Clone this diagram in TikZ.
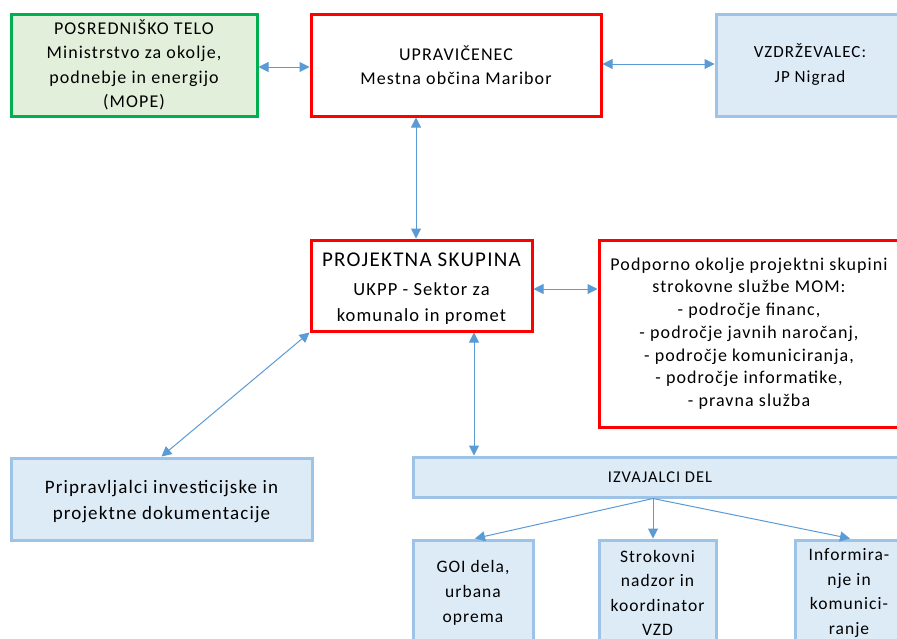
\documentclass[tikz,border=0pt]{standalone}
\usepackage{fontspec}
\setmainfont{Carlito}[LetterSpace=6]
\usetikzlibrary{arrows.meta}
\definecolor{myred}{HTML}{FF0000}
\definecolor{mygreen}{HTML}{00B050}
\definecolor{greenfill}{HTML}{E2EFDA}
\definecolor{blueline}{HTML}{9DC3E6}
\definecolor{bluefill}{HTML}{DDEBF7}
\definecolor{arrowblue}{HTML}{5B9BD5}
\begin{document}
\begin{tikzpicture}[x=1pt,y=-1pt,
  box/.style={line width=3pt, inner sep=0pt, align=center, anchor=center,
    font=\fontsize{18}{24.5}\selectfont},
  redbox/.style={box, draw=myred, fill=white},
  greenbox/.style={box, draw=mygreen, fill=greenfill},
  bluebox/.style={box, draw=blueline, fill=bluefill},
  conn/.style={draw=arrowblue, line width=1pt},
  biarr/.style={conn, {Triangle[length=10pt,width=10pt]}-{Triangle[length=10pt,width=10pt]}},
  onearr/.style={conn, -{Triangle[length=10pt,width=10pt]}}
]
\useasboundingbox (0,0) rectangle (897,638);
\clip (0,0) rectangle (897,638);
\fill[white] (0,0) rectangle (897,638);

\node[greenbox, minimum width=246pt, minimum height=102pt] (mope) at (134,65)
  {POSREDNIŠKO TELO\\Ministrstvo za okolje,\\podnebje in energijo\\(MOPE)};
\node[redbox, minimum width=290pt, minimum height=102pt] (upr) at (456,65)
  {UPRAVIČENEC\\Mestna občina Maribor};
\node[bluebox, minimum width=188pt, minimum height=102pt, font=\fontsize{17}{25}\selectfont] (vzd) at (810,65)
  {VZDRŽEVALEC:\\JP Nigrad};

\node[redbox, minimum width=221pt, minimum height=91pt] (proj) at (421.5,285.5) {};
\node[align=center, inner sep=0pt, font=\fontsize{18.5}{26}\selectfont] (projtext) at ([yshift=-3pt]proj.center)
  {{\fontsize{21}{28}\selectfont PROJEKTNA SKUPINA}\\[3pt]
   UKPP - Sektor za\\
   komunalo in promet};
\node[redbox, minimum width=300pt, minimum height=187pt, font=\fontsize{18}{22.7}\selectfont] (podp) at (749,333.5)
  {Podporno okolje projektni skupini\\strokovne službe MOM:\\- področje financ,\\- področje javnih naročanj,\\- področje komuniciranja,\\- področje informatike,\\- pravna služba};

\node[bluebox, minimum width=301pt, minimum height=82pt] (pripr) at (161.5,499) {};
\node[align=center, inner sep=0pt, font=\fontsize{19}{26}\selectfont] (priprtext) at ([yshift=-3pt]pripr.center)
  {Pripravljalci investicijske in\\projektne dokumentacije};
\node[bluebox, minimum width=494pt, minimum height=40pt, font=\fontsize{16.5}{24}\selectfont] (izv) at (660,477)
  {IZVAJALCI DEL};

\node[bluebox, minimum width=120pt, minimum height=106pt, font=\fontsize{17.5}{25}\selectfont] (goi) at (473,593)
  {GOI dela,\\urbana\\oprema};
\node[bluebox, minimum width=117pt, minimum height=106pt, font=\fontsize{17.5}{24.5}\selectfont] (strok) at (657.5,593)
  {Strokovni\\nadzor in\\koordinator\\VZD};
\node[bluebox, minimum width=108pt, minimum height=106pt, font=\fontsize{17.5}{24.5}\selectfont] (inf) at (849,593)
  {Informira-\\nje in\\komunici-\\ranje};

\draw[biarr] ([yshift=-2pt]mope.east) -- ([yshift=-2pt]upr.west);
\draw[biarr] ([yshift=1pt]upr.east) -- ([yshift=1pt]vzd.west);
\draw[biarr] ([xshift=-40pt]upr.south) -- ([xshift=-5.5pt]proj.north);
\coordinate (proje) at ([yshift=-3.5pt]proj.east);
\draw[biarr] (proje) -- (podp.west |- proje);
\draw[biarr] (proj.south west) -- (pripr.north);
\draw[biarr] ([xshift=52.5pt]proj.south) -- ([xshift=-186pt]izv.north);
\coordinate (izvs) at ([xshift=-7pt]izv.south);
\draw[onearr] (izvs) -- ([xshift=2pt]goi.north);
\draw[onearr] (izvs) -- (strok.north -| izvs);
\draw[onearr] (izvs) -- ([xshift=1pt]inf.north);
\end{tikzpicture}
\end{document}
